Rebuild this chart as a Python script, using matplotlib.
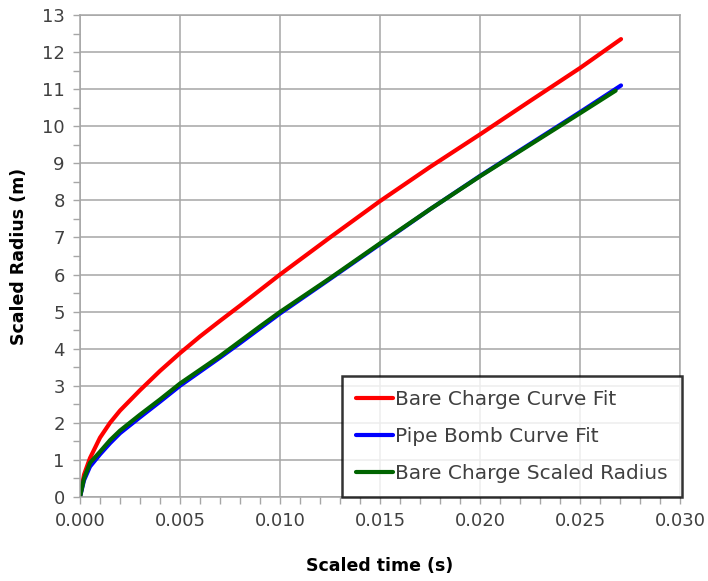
import matplotlib
matplotlib.use('Agg')
import matplotlib.pyplot as plt
from matplotlib.ticker import MultipleLocator, FormatStrFormatter

# scaled time (s) and scaled radius (m) for each series
t_bare_fit = [0.0, 0.0002, 0.0005, 0.001, 0.0015, 0.002, 0.003, 0.004, 0.005,
              0.006, 0.007, 0.008, 0.009, 0.010, 0.0125, 0.015, 0.0175,
              0.020, 0.0225, 0.025, 0.02705]
r_bare_fit = [0.0, 0.6, 1.05, 1.6, 2.0, 2.33, 2.88, 3.4, 3.88,
              4.33, 4.75, 5.16, 5.58, 6.0, 7.0, 7.98, 8.9,
              9.78, 10.68, 11.57, 12.35]

t_pipe_fit = [0.0, 0.0002, 0.0005, 0.001, 0.0015, 0.002, 0.003, 0.004, 0.005,
              0.006, 0.007, 0.008, 0.009, 0.010, 0.0125, 0.015, 0.0175,
              0.020, 0.0225, 0.025, 0.02705]
r_pipe_fit = [0.0, 0.45, 0.82, 1.15, 1.45, 1.72, 2.15, 2.57, 3.0,
              3.38, 3.76, 4.15, 4.55, 4.95, 5.88, 6.82, 7.76,
              8.66, 9.52, 10.38, 11.1]

t_bare_scaled = [0.0, 0.0002, 0.0005, 0.001, 0.0015, 0.002, 0.003, 0.004, 0.005,
                 0.006, 0.007, 0.008, 0.009, 0.010, 0.0125, 0.015, 0.0175,
                 0.020, 0.0225, 0.025, 0.02678]
r_bare_scaled = [0.0, 0.5, 0.92, 1.22, 1.53, 1.79, 2.22, 2.63, 3.06,
                 3.43, 3.8, 4.2, 4.6, 4.99, 5.9, 6.84, 7.76,
                 8.65, 9.5, 10.35, 10.96]

labels = ['Bare Charge Curve Fit', 'Pipe Bomb Curve Fit', 'Bare Charge Scaled Radius']
colors = ['#ff0000', '#0000ff', '#006400']

plt.rcParams['font.family'] = ['DejaVu Sans']

fig = plt.figure(figsize=(7.08, 5.81), dpi=100)
ax = fig.add_axes([0.113, 0.1446, 0.8475, 0.8296])

ax.plot(t_bare_fit, r_bare_fit, color=colors[0], lw=3, label=labels[0],
        solid_capstyle='round', solid_joinstyle='round')
ax.plot(t_pipe_fit, r_pipe_fit, color=colors[1], lw=3, label=labels[1],
        solid_capstyle='round', solid_joinstyle='round')
ax.plot(t_bare_scaled, r_bare_scaled, color=colors[2], lw=3, label=labels[2],
        solid_capstyle='round', solid_joinstyle='round')

ax.set_xlim(0, 0.030)
ax.set_ylim(0, 13)
ax.xaxis.set_major_locator(MultipleLocator(0.005))
ax.xaxis.set_minor_locator(MultipleLocator(0.001))
ax.xaxis.set_major_formatter(FormatStrFormatter('%.3f'))
ax.yaxis.set_major_locator(MultipleLocator(1))
ax.yaxis.set_minor_locator(MultipleLocator(0.5))

ax.grid(True, which='major', color='#a6a6a6', lw=1.1)
ax.set_axisbelow(True)
for s in ax.spines.values():
    s.set_color('#a6a6a6')
    s.set_linewidth(1.1)
ax.tick_params(which='both', direction='out', color='#a6a6a6', width=1)
ax.tick_params(which='major', length=5, labelsize=13, labelcolor='#404040', pad=6)
ax.tick_params(which='minor', length=5)

ax.set_xlabel('Scaled time (s)', fontsize=12.5, fontweight='bold', labelpad=19)
ax.set_ylabel('Scaled Radius (m)', fontsize=12.5, fontweight='bold', labelpad=10)

leg = ax.legend(loc='lower right', bbox_to_anchor=(1.003, 0.0), fontsize=14.5,
                frameon=True, fancybox=False, borderaxespad=0,
                handlelength=1.85, handletextpad=0.1, labelspacing=0.9,
                borderpad=0.7)
leg.get_frame().set_edgecolor('black')
leg.get_frame().set_linewidth(1.8)
for txt in leg.get_texts():
    txt.set_color('#404040')

fig.savefig('out.png', dpi=100)
